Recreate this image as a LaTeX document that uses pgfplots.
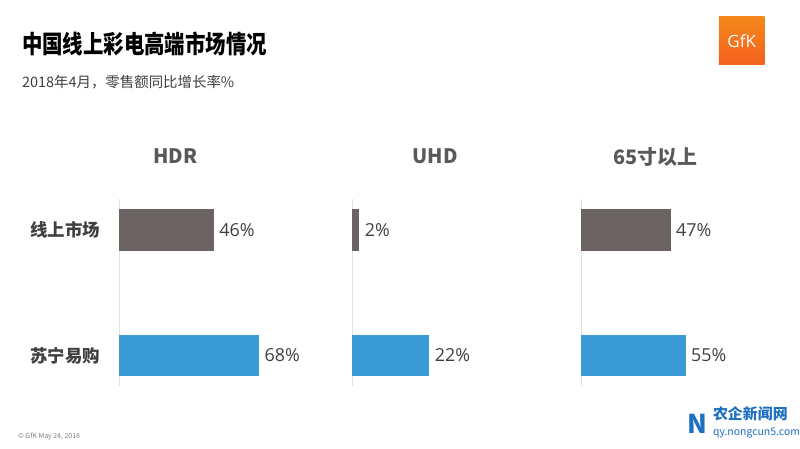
\documentclass[border=0pt]{standalone}
\usepackage{fontspec}
\setmainfont{Noto Sans CJK SC}
\newfontfamily\numfont{Open Sans}
\usepackage{pgfplots}
\pgfplotsset{compat=1.18}

\definecolor{barGray}{HTML}{6B6361}
\definecolor{barBlue}{HTML}{3A9AD6}
\definecolor{txt}{HTML}{404040}
\definecolor{head}{HTML}{595959}
\definecolor{lineGray}{HTML}{E3E3E3}
\definecolor{gfk}{HTML}{F26A21}
\definecolor{wm}{HTML}{1F6FC2}

% one panel = one small horizontal bar chart
\pgfplotsset{panel/.style={
    xbar, bar width=42pt, bar shift=0pt,
    scale only axis, width=200pt, height=188pt,
    xmin=0, ymin=-0.246, ymax=1.246, y dir=reverse,
    axis x line=none, axis y line=left,
    y axis line style={-, draw=lineGray, line width=0.8pt},
    ytick={0,1}, yticklabels={}, major tick length=0pt,
    /pgf/number format/assume math mode=true,
    point meta=x,
    nodes near coords={\pgfmathprintnumber{\pgfplotspointmeta}\%},
    nodes near coords style={font=\numfont\fontsize{18}{21}\selectfont, text=txt, xshift=2pt},
    clip=false,
}}

\begin{document}
\begin{tikzpicture}[x=1pt,y=1pt]
\path[fill=white] (0,0) rectangle (800,450);

% titles
\node[anchor=west, font=\bfseries\fontsize{20.5}{24}\selectfont, text=black, inner sep=0]
  at (22,406) {\scalebox{1}[1.22]{中国线上彩电高端市场情况}};
\node[anchor=west, font=\fontsize{14.5}{17}\selectfont, text=txt, inner sep=0]
  at (22,367) {2018年4月，零售额同比增长率\%};

% GfK logo
\shade[top color=gfk!80!yellow, bottom color=gfk!90!red] (722,385) rectangle (768,433);
\node[text=white, font=\numfont\fontsize{17}{20}\selectfont] at (745,409) {GfK};

% panel headings
\node[font=\bfseries\fontsize{20}{23}\selectfont, text=head] at (176,293) {HDR};
\node[font=\bfseries\fontsize{20}{23}\selectfont, text=head] at (437,293) {UHD};
\node[font=\bfseries\fontsize{20}{23}\selectfont, text=head] at (658,292) {65寸以上};

% HDR
\begin{axis}[panel, at={(120pt,250pt)}, anchor=north west, xmax=97,
    yticklabels={线上市场,苏宁易购},
    yticklabel style={font=\bfseries\fontsize{17.5}{20}\selectfont, text=txt, xshift=-16pt}]
\addplot[fill=barGray, draw=none] coordinates {(46,0)};
\addplot[fill=barBlue, draw=none] coordinates {(68,1)};
\end{axis}

% UHD
\begin{axis}[panel, at={(354pt,250pt)}, anchor=north west, xmax=57]
\addplot[fill=barGray, draw=none] coordinates {(2,0)};
\addplot[fill=barBlue, draw=none] coordinates {(22,1)};
\end{axis}

% 65 inch and above
\begin{axis}[panel, at={(584pt,250pt)}, anchor=north west, xmax=105]
\addplot[fill=barGray, draw=none] coordinates {(47,0)};
\addplot[fill=barBlue, draw=none] coordinates {(55,1)};
\end{axis}

% footer
\node[anchor=west, font=\fontsize{7}{8}\selectfont, text=gray, inner sep=0] at (18,12) {© GfK May 24, 2018};
\node[anchor=west, font=\bfseries\fontsize{26}{28}\selectfont, text=wm, inner sep=0] at (690,24) {N};
\node[anchor=west, font=\bfseries\fontsize{15}{17}\selectfont, text=wm, inner sep=0] at (716,34) {农企新闻网};
\node[anchor=west, font=\fontsize{10.5}{12}\selectfont, text=wm, inner sep=0] at (716,15) {qy.nongcun5.com};
\end{tikzpicture}
\end{document}
